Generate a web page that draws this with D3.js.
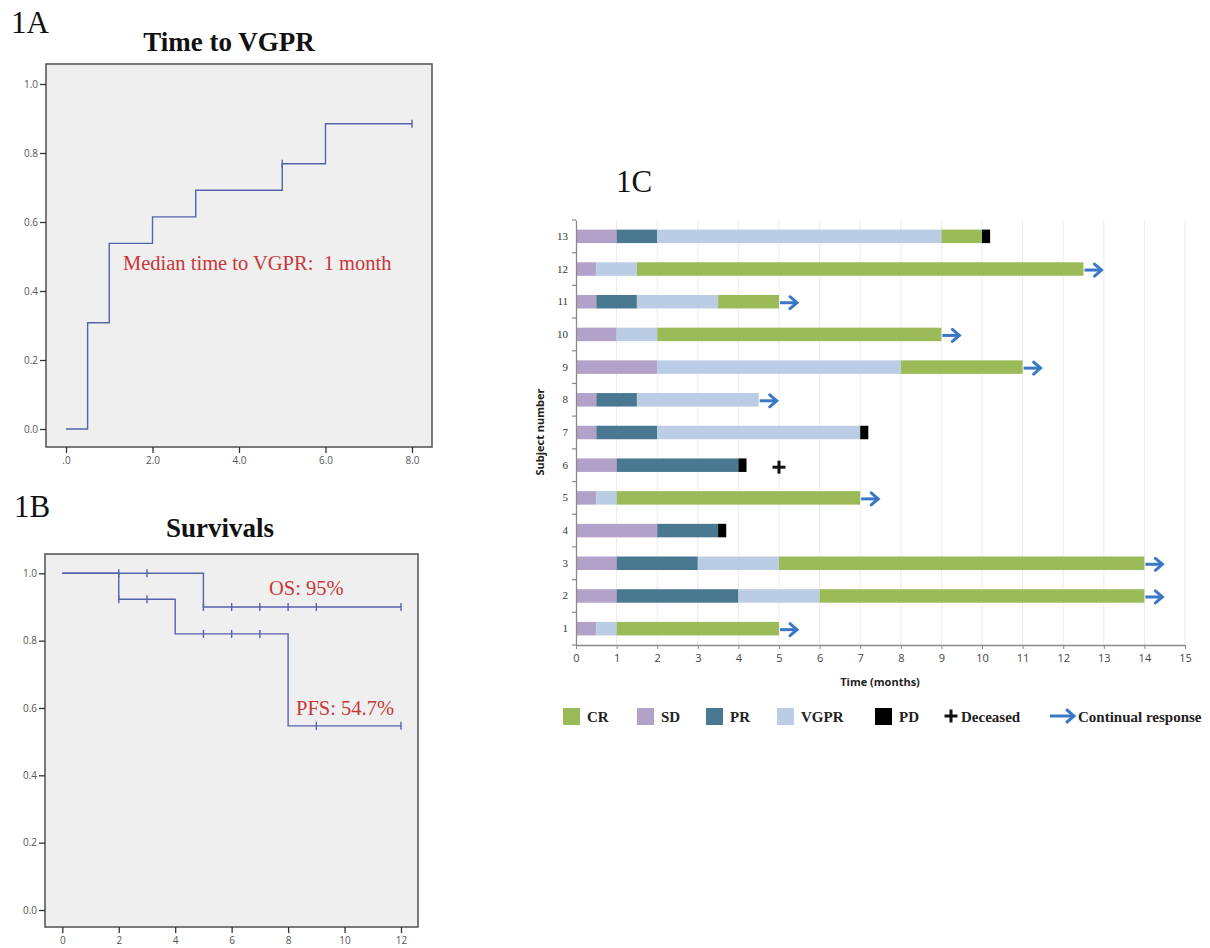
<!DOCTYPE html>
<html>
<head>
<meta charset="utf-8">
<script src="https://cdn.jsdelivr.net/npm/d3@7/dist/d3.min.js"></script>
<style>
  body { margin: 0; background: #fff; }
  svg { display: block; }
</style>
</head>
<body>
<svg id="chart" width="1210" height="948"></svg>
<script>
// ---------- DATA ----------
// 1A: Time to VGPR (Kaplan-Meier style cumulative incidence)
const vgprTimes = [0, 0.5, 1, 2, 3, 5, 6, 8];
const vgprProb  = [0, 0.308, 0.538, 0.615, 0.692, 0.769, 0.885, 0.885];
const vgprCensorT = [5, 8];
const vgprCensorP = [0.769, 0.885];
const vgprXTicks = [0, 2, 4, 6, 8];
const vgprXLabels = [".0", "2.0", "4.0", "6.0", "8.0"];
const kmYTicks = [0, 0.2, 0.4, 0.6, 0.8, 1.0];
const kmYLabels = ["0.0", "0.2", "0.4", "0.6", "0.8", "1.0"];

// 1B: Survivals
const osTimes = [0, 5, 12];
const osProb  = [1, 0.9, 0.9];
const osCensorT = [2, 3, 5, 6, 7, 8, 9, 12];
const osCensorP = [1, 1, 0.9, 0.9, 0.9, 0.9, 0.9, 0.9];
const pfsTimes = [0, 2, 4, 8, 12];
const pfsProb  = [1, 0.923, 0.82, 0.547, 0.547];
const pfsCensorT = [2, 3, 5, 6, 7, 9, 12];
const pfsCensorP = [0.923, 0.923, 0.82, 0.82, 0.82, 0.547, 0.547];
const survXTicks = [0, 2, 4, 6, 8, 10, 12];

// 1C: swimmer plot (durations in months, subjects 1..13)
const subjects = [1,2,3,4,5,6,7,8,9,10,11,12,13];
const phases = ["SD", "PR", "VGPR", "CR", "PD"];
const sdDur   = [0.5, 1, 1, 2, 0.5, 1, 0.5, 0.5, 2, 1, 0.5, 0.5, 1];
const prDur   = [0, 3, 2, 1.5, 0, 3, 1.5, 1, 0, 0, 1, 0, 1];
const vgprDur = [0.5, 2, 2, 0, 0.5, 0, 5, 3, 6, 1, 2, 1, 7];
const crDur   = [4, 8, 9, 0, 6, 0, 0, 0, 3, 7, 1.5, 11, 1];
const pdDur   = [0, 0, 0, 0.2, 0, 0.2, 0.2, 0, 0, 0, 0, 0, 0.2];
const continuing = [1, 1, 1, 0, 1, 0, 0, 1, 1, 1, 1, 1, 0];
const deceasedSubject = [6];
const deceasedTime = [5];
const swimXTicks = d3.range(0, 16);
const legendItems = ["CR", "SD", "PR", "VGPR", "PD"];

// ---------- STYLE ----------
const phaseColor = { SD: "#b2a1c8", PR: "#4a7891", VGPR: "#bacde5", CR: "#9bbb59", PD: "#000000" };
const kmLine = "#5563aa";
const red = "#c8373a";
const serif = "'Liberation Serif', 'Times New Roman', serif";
const sans = "'Open Sans', 'Liberation Sans', Arial, sans-serif";

const svg = d3.select("#chart");

// ---------- KM panel helper ----------
function kmPanel(cfg) {
  const g = svg.append("g");
  // frame
  g.append("rect").attr("x", cfg.fx0).attr("y", cfg.fy0)
    .attr("width", cfg.fx1 - cfg.fx0).attr("height", cfg.fy1 - cfg.fy0)
    .attr("fill", "#efefef").attr("stroke", "#5a5a5a").attr("stroke-width", 1.6);
  const x = d3.scaleLinear().domain(cfg.xDomain).range(cfg.xRange);
  const y = d3.scaleLinear().domain([0, 1]).range(cfg.yRange);

  const yAxis = d3.axisLeft(y).tickValues(kmYTicks)
    .tickFormat((d, i) => kmYLabels[i]).tickSize(6).tickPadding(2);
  const ya = g.append("g").attr("transform", `translate(${cfg.fx0},0)`).call(yAxis);
  ya.select(".domain").remove();
  ya.selectAll("line").attr("stroke", "#333").attr("stroke-width", 1.3);
  ya.selectAll("text").attr("font-family", sans).attr("font-size", 10).attr("fill", "#555");

  const xAxis = d3.axisBottom(x).tickValues(cfg.xTicks)
    .tickFormat((d, i) => cfg.xLabels ? cfg.xLabels[i] : d).tickSize(6).tickPadding(4);
  const xa = g.append("g").attr("transform", `translate(0,${cfg.fy1})`).call(xAxis);
  xa.select(".domain").remove();
  xa.selectAll("line").attr("stroke", "#333").attr("stroke-width", 1.3);
  xa.selectAll("text").attr("font-family", sans).attr("font-size", 10).attr("fill", "#555");

  const line = d3.line().x(d => x(d[0])).y(d => y(d[1])).curve(d3.curveStepAfter);
  cfg.series.forEach(s => {
    const pts = s.t.map((t, i) => [t, s.p[i]]);
    g.append("path").attr("d", line(pts)).attr("fill", "none")
      .attr("stroke", kmLine).attr("stroke-width", 1.4);
    g.selectAll(null).data(s.ct.map((t, i) => [t, s.cp[i]])).enter().append("line")
      .attr("x1", d => x(d[0])).attr("x2", d => x(d[0]))
      .attr("y1", d => y(d[1]) - 4).attr("y2", d => y(d[1]) + 4)
      .attr("stroke", kmLine).attr("stroke-width", 1.4);
  });

  g.append("text").attr("x", cfg.labelX).attr("y", cfg.labelY).text(cfg.label)
    .attr("font-family", serif).attr("font-size", 31).attr("fill", "#111");
  g.append("text").attr("x", cfg.titleX).attr("y", cfg.titleY).text(cfg.title)
    .attr("text-anchor", "middle").attr("font-family", serif).attr("font-weight", "bold")
    .attr("font-size", 27).attr("fill", "#111");
  cfg.notes.forEach(n => {
    g.append("text").attr("x", n.x).attr("y", n.y).text(n.text)
      .attr("font-family", serif).attr("font-size", 20.5).attr("fill", red)
      .attr("xml:space", "preserve");
  });
}

kmPanel({
  fx0: 46, fx1: 432, fy0: 64, fy1: 447,
  xDomain: [0, 8], xRange: [66, 412], yRange: [429, 84],
  xTicks: vgprXTicks, xLabels: vgprXLabels,
  series: [{ t: vgprTimes, p: vgprProb, ct: vgprCensorT, cp: vgprCensorP }],
  label: "1A", labelX: 11, labelY: 33,
  title: "Time to VGPR", titleX: 229, titleY: 51,
  notes: [{ x: 123, y: 270, text: "Median time to VGPR:  1 month" }]
});

kmPanel({
  fx0: 45, fx1: 418, fy0: 554, fy1: 927,
  xDomain: [0, 12], xRange: [62.3, 401], yRange: [910, 573.3],
  xTicks: survXTicks, xLabels: null,
  series: [
    { t: osTimes, p: osProb, ct: osCensorT, cp: osCensorP },
    { t: pfsTimes, p: pfsProb, ct: pfsCensorT, cp: pfsCensorP }
  ],
  label: "1B", labelX: 14, labelY: 517,
  title: "Survivals", titleX: 220, titleY: 537,
  notes: [{ x: 269, y: 595, text: "OS: 95%" }, { x: 296, y: 715, text: "PFS: 54.7%" }]
});

// ---------- 1C swimmer plot ----------
const gc = svg.append("g");
const sx = d3.scaleLinear().domain([0, 15]).range([576, 1185]);
const sy = d3.scaleBand().domain(subjects.slice().reverse()).range([220, 645]).paddingInner(0).paddingOuter(0);
const barH = 13.5;

// gridlines
gc.selectAll(".grid").data(swimXTicks.filter(d => d > 0)).enter().append("line")
  .attr("x1", d => sx(d)).attr("x2", d => sx(d)).attr("y1", 220).attr("y2", 645)
  .attr("stroke", "#ececec").attr("stroke-width", 1);

// stacked bars
const rows = subjects.map((s, i) => ({
  subject: s, SD: sdDur[i], PR: prDur[i], VGPR: vgprDur[i], CR: crDur[i], PD: pdDur[i]
}));
const stacked = d3.stack().keys(phases)(rows);
stacked.forEach(layer => {
  gc.selectAll(null).data(layer.filter(d => d[1] - d[0] > 0)).enter().append("rect")
    .attr("x", d => sx(d[0])).attr("width", d => sx(d[1]) - sx(d[0]))
    .attr("y", d => sy(d.data.subject) + sy.bandwidth() / 2 - barH / 2)
    .attr("height", barH).attr("fill", phaseColor[layer.key]);
});

// arrows for continual response
const arrowColor = "#3a78c6";
function drawArrow(g, x0, x1, yy) {
  g.append("line").attr("x1", x0).attr("x2", x1 - 2).attr("y1", yy).attr("y2", yy)
    .attr("stroke", arrowColor).attr("stroke-width", 3);
  g.append("path").attr("d", `M${x1 - 7},${yy - 6} L${x1},${yy} L${x1 - 7},${yy + 6}`)
    .attr("fill", "none").attr("stroke", arrowColor).attr("stroke-width", 3)
    .attr("stroke-linecap", "round").attr("stroke-linejoin", "miter");
}
subjects.forEach((s, i) => {
  if (!continuing[i]) return;
  const end = sdDur[i] + prDur[i] + vgprDur[i] + crDur[i] + pdDur[i];
  const yy = sy(s) + sy.bandwidth() / 2 + 1;
  drawArrow(gc, sx(end) + 1, sx(end) + 18, yy);
});

// deceased cross
function drawCross(g, cx, cy, r) {
  g.append("line").attr("x1", cx - r).attr("x2", cx + r).attr("y1", cy).attr("y2", cy)
    .attr("stroke", "#111").attr("stroke-width", 3);
  g.append("line").attr("x1", cx).attr("x2", cx).attr("y1", cy - r).attr("y2", cy + r)
    .attr("stroke", "#111").attr("stroke-width", 3);
}
deceasedSubject.forEach((s, i) => {
  drawCross(gc, sx(deceasedTime[i]), sy(s) + sy.bandwidth() / 2 + 2, 6.5);
});

// axes
const sxAxis = d3.axisBottom(sx).tickValues(swimXTicks).tickSize(4).tickPadding(5).tickSizeOuter(0);
const sxa = gc.append("g").attr("transform", "translate(0,645)").call(sxAxis);
sxa.select(".domain").attr("stroke", "#8a8a8a").attr("stroke-width", 1.3);
sxa.selectAll("line").attr("stroke", "#8a8a8a");
sxa.selectAll("text").attr("font-family", sans).attr("font-size", 11).attr("fill", "#444");

const syAxis = d3.axisLeft(sy).tickSize(0).tickPadding(8);
const sya = gc.append("g").attr("transform", "translate(576,0)").call(syAxis);
sya.select(".domain").attr("stroke", "#8a8a8a").attr("stroke-width", 1.3);
sya.selectAll("text").attr("font-family", serif).attr("font-size", 11).attr("fill", "#333");
// minor ticks at band boundaries
const bounds = subjects.map(s => sy(s)).concat([645]);
gc.selectAll(".btick").data(bounds).enter().append("line")
  .attr("x1", 572).attr("x2", 576).attr("y1", d => d).attr("y2", d => d)
  .attr("stroke", "#8a8a8a").attr("stroke-width", 1.2);

gc.append("text").attr("x", 880).attr("y", 686).attr("text-anchor", "middle")
  .text("Time (months)").attr("font-family", sans).attr("font-weight", "bold")
  .attr("font-size", 11).attr("fill", "#222");
gc.append("text").attr("transform", "translate(544,432) rotate(-90)").attr("text-anchor", "middle")
  .text("Subject number").attr("font-family", sans).attr("font-weight", "bold")
  .attr("font-size", 11).attr("fill", "#222");

gc.append("text").attr("x", 616).attr("y", 192).text("1C")
  .attr("font-family", serif).attr("font-size", 31).attr("fill", "#111");

// legend
const legendX = { CR: 563, SD: 637, PR: 706, VGPR: 777, PD: 875 };
const lg = gc.append("g");
legendItems.forEach(k => {
  lg.append("rect").attr("x", legendX[k]).attr("y", 708).attr("width", 17).attr("height", 17)
    .attr("fill", phaseColor[k]);
  lg.append("text").attr("x", legendX[k] + 24).attr("y", 722).text(k)
    .attr("font-family", serif).attr("font-weight", "bold").attr("font-size", 15).attr("fill", "#222");
});
drawCross(lg, 951, 716, 6.5);
lg.append("text").attr("x", 961).attr("y", 722).text("Deceased")
  .attr("font-family", serif).attr("font-weight", "bold").attr("font-size", 15).attr("fill", "#222");
drawArrow(lg, 1050, 1074, 716);
lg.append("text").attr("x", 1078).attr("y", 722).text("Continual response")
  .attr("font-family", serif).attr("font-weight", "bold").attr("font-size", 15).attr("fill", "#222");
</script>
</body>
</html>
